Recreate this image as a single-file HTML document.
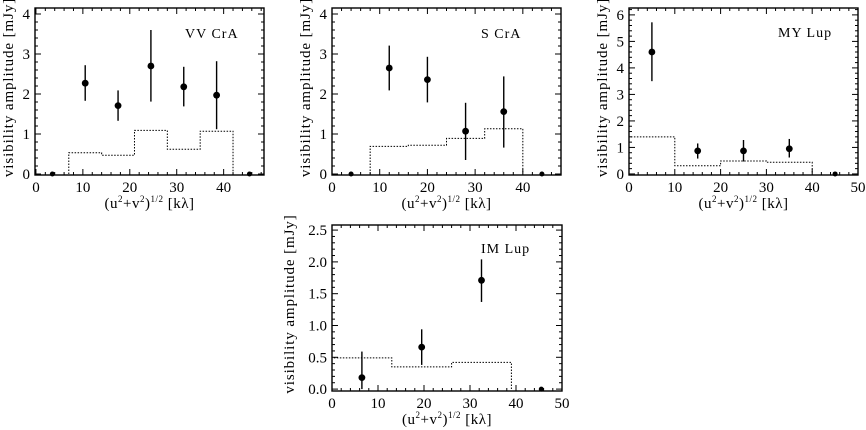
<!DOCTYPE html>
<html><head><meta charset="utf-8"><style>
body{margin:0;background:#fff}
svg{display:block;font-family:"Liberation Serif",serif}
</style></head><body>
<svg id="chart" width="866" height="430" viewBox="0 0 866 430" xmlns="http://www.w3.org/2000/svg"></svg>
<script>
// ---- data ----
const vvX = [3.5, 10.5, 17.5, 24.5, 31.5, 38.5, 45.5];
const vvY = [0, 2.27, 1.71, 2.70, 2.18, 1.97, 0];
const vvLo = [0, 1.83, 1.33, 1.81, 1.69, 1.12, 0];
const vvHi = [0, 2.72, 2.09, 3.60, 2.68, 2.82, 0];
const vvBinEdges = [7, 14, 21, 28, 35, 42];
const vvModel = [0.53, 0.47, 1.09, 0.62, 1.07];

const scX = [4, 12, 20, 28, 36, 44];
const scY = [0, 2.65, 2.36, 1.07, 1.56, 0];
const scLo = [0, 2.09, 1.79, 0.35, 0.66, 0];
const scHi = [0, 3.21, 2.93, 1.78, 2.44, 0];
const scBinEdges = [8, 16, 24, 32, 40];
const scModel = [0.69, 0.72, 0.89, 1.13];

const myX = [5, 15, 25, 35, 45];
const myY = [4.6, 0.87, 0.87, 0.95, 0];
const myLo = [3.5, 0.58, 0.47, 0.62, 0];
const myHi = [5.72, 1.15, 1.28, 1.32, 0];
const myBinEdges = [0, 10, 20, 30, 40];
const myModel = [1.4, 0.31, 0.49, 0.44];

const imX = [6.5, 19.5, 32.5, 45.5];
const imY = [0.18, 0.66, 1.71, 0];
const imLo = [0, 0.38, 1.37, 0];
const imHi = [0.59, 0.94, 2.04, 0];
const imBinEdges = [0, 13, 26, 39];
const imModel = [0.49, 0.35, 0.42];

const xTicks10 = [0, 10, 20, 30, 40];
const xTicks50 = [0, 10, 20, 30, 40, 50];
const yTicks4 = [0, 1, 2, 3, 4];
const yTicks6 = [0, 1, 2, 3, 4, 5, 6];
const yTicksIm = ["0.0", "0.5", "1.0", "1.5", "2.0", "2.5"];

const NS = "http://www.w3.org/2000/svg";
const svg = document.getElementById("chart");
function mk(tag, attrs, parent){const e=document.createElementNS(NS,tag);for(const k in attrs)e.setAttribute(k,attrs[k]);(parent||svg).appendChild(e);return e;}

function panel(p){
  const g = mk("g", {});
  
  
  const sx = v => p.L + (v - p.xmin) / (p.xmax - p.xmin) * (p.R - p.L);
  const sy = v => p.B - (v - p.ymin) / (p.ymax - p.ymin) * (p.B - p.T);
  const fr = mk("rect", {x:p.L, y:p.T, width:p.R-p.L, height:p.B-p.T, fill:"none", stroke:"#000", "stroke-width":1.4}, g);
  
  
  for(let v=0; v<=p.xmax+1e-6; v+=p.xminor){
    const X=sx(v); if(X<p.L-0.5||X>p.R+0.5) continue;
    const major = Math.abs(v/p.xmajor - Math.round(v/p.xmajor))<1e-6;
    const len = major?6:3;
    mk("line",{x1:X,y1:p.B,x2:X,y2:p.B-len,stroke:"#000","stroke-width":1},g);
    mk("line",{x1:X,y1:p.T,x2:X,y2:p.T+len,stroke:"#000","stroke-width":1},g);
  }
  for(let v=0; v<=p.ymax+1e-6; v+=p.yminor){
    const Y=sy(v);
    const major = Math.abs(v/p.ymajor - Math.round(v/p.ymajor))<1e-6;
    const len = major?6:3;
    mk("line",{x1:p.L,y1:Y,x2:p.L+len,y2:Y,stroke:"#000","stroke-width":1},g);
    mk("line",{x1:p.R,y1:Y,x2:p.R-len,y2:Y,stroke:"#000","stroke-width":1},g);
  }
  p.xticks.forEach(v=>{
    const t = mk("text",{x:sx(v),y:p.B+17,"font-size":15,"text-anchor":"middle"},g);
    t.textContent = v;
    
    
  });
  p.yticks.forEach(v=>{
    const t = mk("text",{x:p.L-5,y:sy(parseFloat(v))+5,"font-size":15,"text-anchor":"end"},g);
    t.textContent = v;
    
    
  });
  const xt = mk("text",{x:(p.L+p.R)/2,y:p.B+33,"font-size":15,"text-anchor":"middle","letter-spacing":0.5},g);
  xt.innerHTML = '(u<tspan font-size="9" dy="-6">2</tspan><tspan dy="6">+v</tspan><tspan font-size="9" dy="-6">2</tspan><tspan dy="6">)</tspan><tspan font-size="9" dy="-6">1/2</tspan><tspan dy="6"> [kλ]</tspan>';
  
  
  const ytx = p.L - p.ylabOff;
  const yc = (p.T+p.B)/2 - 4;
  const yt = mk("text",{x:ytx,y:yc,"font-size":15,"text-anchor":"middle","letter-spacing":0.9,transform:`rotate(-90 ${ytx} ${yc})`},g);
  yt.textContent = "visibility amplitude [mJy]";
  
  
  const ti = mk("text",{x:p.tx,y:p.ty,"font-size":14,"letter-spacing":1},g);
  ti.textContent = p.title;
  
  
  let d = "";
  const e = p.edges;
  for(let i=0;i<p.model.length;i++){
    const x0=sx(e[i]), x1=sx(e[i+1]), y=sy(p.model[i]);
    if(i===0) d += `M${x0},${sy(0)} L${x0},${y} `;
    else d += `L${x0},${y} `;
    d += `L${x1},${y} `;
  }
  d += `L${sx(e[e.length-1])},${sy(0)}`;
  const h = mk("path",{d:d,fill:"none",stroke:"#000","stroke-width":1,"stroke-dasharray":"1.5,1.5"},g);
  
  
  for(let i=0;i<p.x.length;i++){
    const X=sx(p.x[i]);
    if(p.hi[i]>p.lo[i]){
      const l = mk("line",{x1:X,y1:sy(p.lo[i]),x2:X,y2:sy(p.hi[i]),stroke:"#000","stroke-width":1.4},g);
      
      
    }
    const r = p.y[i]===0 ? 2.5 : 3.4;
    const c = mk("circle",{cx:X,cy:sy(p.y[i]),r:r,fill:"#000"},g);
    
    
  }
}

panel({name:"vv-cra",title:"VV CrA",tx:185,ty:38,L:35,R:264,T:8,B:175,xmin:-0.2,xmax:48.6,ymin:-0.025,ymax:4.15,
  xmajor:10,xminor:2,ymajor:1,yminor:0.2,xticks:xTicks10,yticks:yTicks4,ylabOff:22,
  x:vvX,y:vvY,lo:vvLo,hi:vvHi,edges:vvBinEdges,model:vvModel});
panel({name:"s-cra",title:"S CrA",tx:481,ty:38,L:332,R:561,T:8,B:175,xmin:0,xmax:48,ymin:-0.025,ymax:4.15,
  xmajor:10,xminor:2,ymajor:1,yminor:0.2,xticks:xTicks10,yticks:yTicks4,ylabOff:22,
  x:scX,y:scY,lo:scLo,hi:scHi,edges:scBinEdges,model:scModel});
panel({name:"my-lup",title:"MY Lup",tx:778,ty:37,L:629,R:858,T:8,B:175,xmin:0,xmax:50,ymin:-0.04,ymax:6.26,
  xmajor:10,xminor:2,ymajor:1,yminor:0.2,xticks:xTicks50,yticks:yTicks6,ylabOff:22,
  x:myX,y:myY,lo:myLo,hi:myHi,edges:myBinEdges,model:myModel});
panel({name:"im-lup",title:"IM Lup",tx:481,ty:253,L:332,R:562,T:225,B:391,xmin:0,xmax:50,ymin:-0.03,ymax:2.58,
  xmajor:10,xminor:2,ymajor:0.5,yminor:0.1,xticks:xTicks50,yticks:yTicksIm,ylabOff:38,
  x:imX,y:imY,lo:imLo,hi:imHi,edges:imBinEdges,model:imModel});
</script>
</body></html>
